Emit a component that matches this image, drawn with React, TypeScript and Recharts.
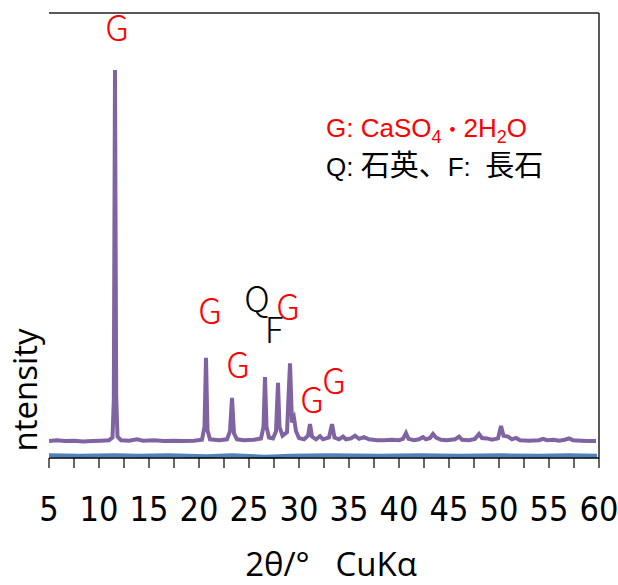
import { Line, LineChart, ReferenceDot, ReferenceLine, XAxis, YAxis } from "recharts";

// XRD pattern of the sample (2θ in degrees, counts in arbitrary units)
const sampleTheta = [
  5.0, 5.8, 6.6, 7.5, 8.4, 9.3, 10.2, 11.0, 11.35, 11.48, 11.6, 11.72, 11.85, 12.2,
  13.0, 13.8, 14.4, 15.5, 16.5, 17.5, 18.5, 19.5, 20.3, 20.55, 20.7, 20.85, 21.1,
  22.0, 22.8, 23.1, 23.3, 23.5, 23.8, 24.5, 25.5, 26.2, 26.45, 26.6, 26.75, 27.0,
  27.4, 27.7, 27.9, 28.05, 28.35, 28.8, 29.1, 29.3, 29.5, 29.7, 30.0, 30.5, 30.9,
  31.1, 31.3, 31.7, 32.1, 32.4, 33.0, 33.3, 33.55, 34.0, 34.4, 34.7, 35.2, 35.6,
  36.0, 36.5, 37.0, 37.8, 38.5, 39.3, 40.0, 40.4, 40.7, 40.95, 41.5, 42.0, 42.4,
  42.7, 43.1, 43.4, 43.7, 44.2, 44.8, 45.6, 46.0, 46.3, 47.0, 47.6, 48.0, 48.3,
  48.8, 49.3, 49.9, 50.2, 50.45, 50.9, 51.3, 51.7, 52.1, 53.0, 54.0, 54.4, 54.8,
  55.5, 56.0, 56.6, 57.0, 57.4, 58.2, 59.0, 59.7,
];
const sampleCounts = [
  38, 40, 38, 39, 37, 38, 39, 40, 46, 130, 872, 140, 48, 40,
  39, 42, 39, 40, 38, 39, 38, 39, 41, 70, 225, 62, 42,
  40, 42, 60, 135, 55, 42, 40, 41, 44, 70, 182, 70, 46,
  44, 60, 169, 70, 50, 58, 213, 80, 90, 60, 45, 42, 50,
  76, 48, 42, 49, 42, 46, 76, 46, 42, 48, 42, 44, 50,
  43, 47, 42, 40, 40, 41, 40, 43, 56, 43, 40, 42, 47,
  42, 45, 54, 46, 41, 40, 42, 48, 41, 40, 43, 54, 45,
  44, 41, 44, 72, 50, 48, 42, 45, 40, 39, 40, 43, 40,
  41, 39, 41, 44, 40, 39, 38, 38,
];

// blank holder pattern
const blankTheta = [5.0, 8.0, 11.6, 14.0, 17.0, 20.7, 23.3, 26.6, 27.9, 29.1, 33.0, 38.0, 42.0, 46.0, 50.3, 54.0, 57.0, 59.8];
const blankCounts = [6, 5, 6, 5, 6, 4, 6, 3, 4, 5, 6, 5, 6, 5, 6, 5, 6, 5];

const xTicks = [
  5, 7.5, 10, 12.5, 15, 17.5, 20, 22.5, 25, 27.5, 30, 32.5, 35, 37.5, 40, 42.5,
  45, 47.5, 50, 52.5, 55, 57.5, 60,
];

// phase marks above the peaks
const markTheta = [11.8, 21.1, 23.9, 25.8, 27.5, 28.9, 31.3, 33.5];
const markLevel = [966, 328, 207, 355, 286, 337, 130, 171];
const markPhase = ["G", "G", "G", "Q", "F", "G", "G", "G"];

const sampleRows = sampleTheta.map((theta, i) => ({ theta, counts: sampleCounts[i] }));
const blankRows = blankTheta.map((theta, i) => ({ theta, counts: blankCounts[i] }));
const marks = markTheta.map((theta, i) => ({ theta, level: markLevel[i], phase: markPhase[i] }));

const axisFont = "'Liberation Sans Narrow', 'DejaVu Sans Condensed', sans-serif";
const labelFont = "'Open Sans', sans-serif";
const cjkFont = "'Noto Sans CJK JP', sans-serif";

export default function App() {
  return (
    <div style={{ position: "absolute", left: 0, top: 0, width: 618, height: 585, background: "#fff" }}>
      <LineChart width={618} height={585} margin={{ top: 13, right: 19, bottom: 0, left: 49 }}>
        <XAxis
          type="number"
          dataKey="theta"
          domain={[5, 60]}
          ticks={xTicks}
          interval={0}
          allowDataOverflow
          height={127}
          tickSize={10}
          tickMargin={29}
          tickFormatter={(v: number) => (v % 5 === 0 ? String(v) : "")}
          axisLine={{ stroke: "#000", strokeWidth: 1.5 }}
          tickLine={{ stroke: "#000", strokeWidth: 1.2 }}
          tick={{ fill: "#000", fontSize: 34, fontFamily: axisFont }}
          label={{
            value: "2θ/°\u00a0\u00a0\u00a0CuKα",
            position: "insideBottom",
            offset: 9,
            dx: 7,
            fill: "#000",
            fontSize: 33,
            fontFamily: labelFont,
          }}
        />
        <YAxis
          type="number"
          domain={[0, 1000]}
          width={0}
          tick={false}
          tickLine={false}
          axisLine={{ stroke: "#000", strokeWidth: 1.5 }}
        />
        <ReferenceLine y={1000} stroke="#222" strokeWidth={1.5} />
        <ReferenceLine x={60} stroke="#222" strokeWidth={1.5} />
        <Line
          data={blankRows}
          dataKey="counts"
          type="linear"
          stroke="#4F81BD"
          strokeWidth={4}
          dot={false}
          isAnimationActive={false}
        />
        <Line
          data={sampleRows}
          dataKey="counts"
          type="linear"
          stroke="#8064A2"
          strokeWidth={4}
          dot={false}
          isAnimationActive={false}
        />
        {marks.map((m, i) => (
          <ReferenceDot
            key={i}
            x={m.theta}
            y={m.level}
            r={0}
            stroke="none"
            label={{
              value: m.phase,
              position: "center",
              fill: m.phase === "G" ? "#FF0000" : "#000",
              fontSize: 35,
              fontWeight: 300,
              fontFamily: cjkFont,
            }}
          />
        ))}
      </LineChart>
      <svg
        width={618}
        height={585}
        style={{ position: "absolute", left: 0, top: 0, pointerEvents: "none" }}
      >
        <text
          transform="translate(37, 390) rotate(-90)"
          textAnchor="middle"
          fontSize={33}
          fontFamily={labelFont}
          fill="#000"
        >
          ntensity
        </text>
        <text x={326} y={137} fill="#FF0000" fontSize={26} fontFamily="'Liberation Sans', Arial, sans-serif">
          G: CaSO
          <tspan dy={6} fontSize={18}>4</tspan>
          <tspan dy={-6} fontFamily={cjkFont} fontSize={22}>・</tspan>
          <tspan>2H</tspan>
          <tspan dy={6} fontSize={18}>2</tspan>
          <tspan dy={-6}>O</tspan>
        </text>
        <text x={326} y={176} fill="#000" fontSize={26} fontFamily="'Liberation Sans', Arial, sans-serif">
          Q:{"\u00a0"}
          <tspan fontFamily={cjkFont} fontSize={29}>石英、</tspan>
          <tspan>F:{"\u00a0\u00a0"}</tspan>
          <tspan fontFamily={cjkFont} fontSize={29}>長石</tspan>
        </text>
      </svg>
    </div>
  );
}
